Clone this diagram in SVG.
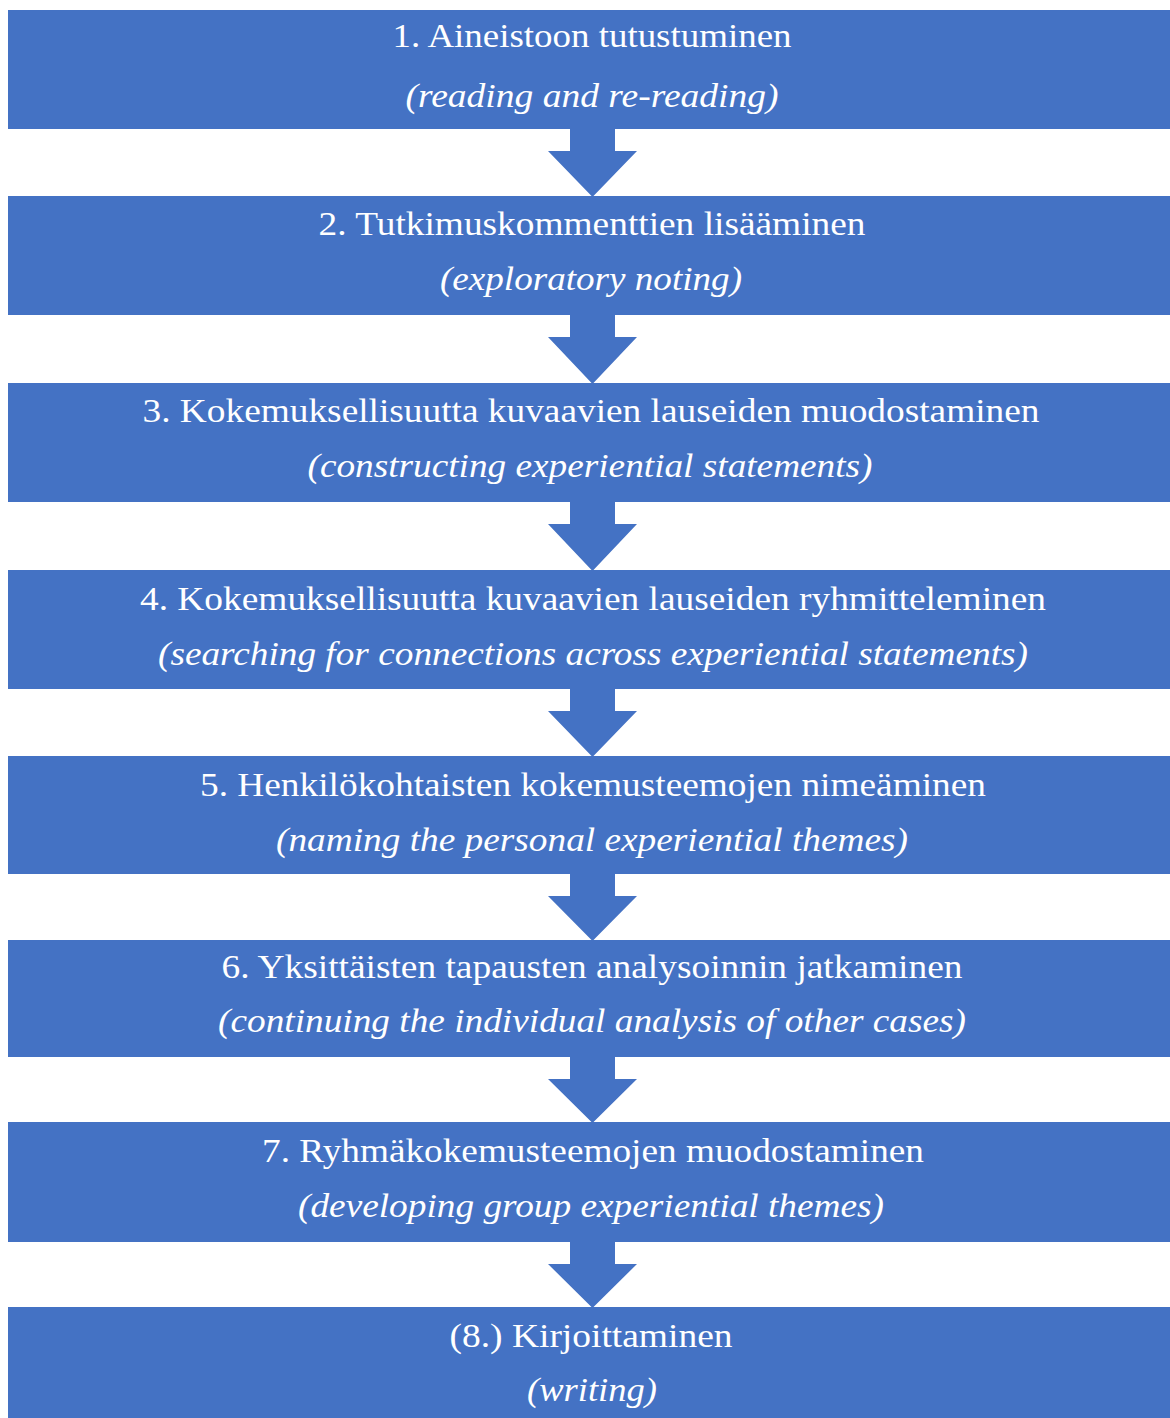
<svg xmlns="http://www.w3.org/2000/svg" width="1170" height="1418" viewBox="0 0 1170 1418">
<style>
.box{fill:#4472c4}
.arr{fill:#4472c4}
.t{font-family:"Liberation Serif","Times New Roman",serif;font-size:33px;fill:#ffffff;text-anchor:middle}
.s{font-family:"Liberation Serif","Times New Roman",serif;font-style:italic;font-size:33px;fill:#ffffff;text-anchor:middle}
</style>
<rect width="1170" height="1418" fill="#ffffff"/>
<g id="connectors">
<polygon class="arr" points="570,129 615,129 615,151 637,151 592.5,197 548,151 570,151"/>
<polygon class="arr" points="570,315 615,315 615,337 637,337 592.5,384 548,337 570,337"/>
<polygon class="arr" points="570,502 615,502 615,524 637,524 592.5,571 548,524 570,524"/>
<polygon class="arr" points="570,689 615,689 615,711 637,711 592.5,757 548,711 570,711"/>
<polygon class="arr" points="570,874 615,874 615,896 637,896 592.5,941 548,896 570,896"/>
<polygon class="arr" points="570,1057 615,1057 615,1079 637,1079 592.5,1123 548,1079 570,1079"/>
<polygon class="arr" points="570,1242 615,1242 615,1264 637,1264 592.5,1308 548,1264 570,1264"/>
</g>
<g id="n1"><rect class="box" x="8" y="10" width="1162" height="119"/>
<text class="t" x="592" y="47" textLength="399" lengthAdjust="spacingAndGlyphs">1. Aineistoon tutustuminen</text>
<text class="s" x="592" y="107" textLength="373" lengthAdjust="spacingAndGlyphs">(reading and re-reading)</text></g>
<g id="n2"><rect class="box" x="8" y="196" width="1162" height="119"/>
<text class="t" x="592" y="235" textLength="547" lengthAdjust="spacingAndGlyphs">2. Tutkimuskommenttien lisääminen</text>
<text class="s" x="591" y="290" textLength="302" lengthAdjust="spacingAndGlyphs">(exploratory noting)</text></g>
<g id="n3"><rect class="box" x="8" y="383" width="1162" height="119"/>
<text class="t" x="591" y="422" textLength="897" lengthAdjust="spacingAndGlyphs">3. Kokemuksellisuutta kuvaavien lauseiden muodostaminen</text>
<text class="s" x="590" y="477" textLength="565" lengthAdjust="spacingAndGlyphs">(constructing experiential statements)</text></g>
<g id="n4"><rect class="box" x="8" y="570" width="1162" height="119"/>
<text class="t" x="593" y="610" textLength="906" lengthAdjust="spacingAndGlyphs">4. Kokemuksellisuutta kuvaavien lauseiden ryhmitteleminen</text>
<text class="s" x="593" y="665" textLength="870" lengthAdjust="spacingAndGlyphs">(searching for connections across experiential statements)</text></g>
<g id="n5"><rect class="box" x="8" y="756" width="1162" height="118"/>
<text class="t" x="593" y="796" textLength="786" lengthAdjust="spacingAndGlyphs">5. Henkilökohtaisten kokemusteemojen nimeäminen</text>
<text class="s" x="592" y="851" textLength="632" lengthAdjust="spacingAndGlyphs">(naming the personal experiential themes)</text></g>
<g id="n6"><rect class="box" x="8" y="940" width="1162" height="117"/>
<text class="t" x="592" y="978" textLength="741" lengthAdjust="spacingAndGlyphs">6. Yksittäisten tapausten analysoinnin jatkaminen</text>
<text class="s" x="592" y="1032" textLength="748" lengthAdjust="spacingAndGlyphs">(continuing the individual analysis of other cases)</text></g>
<g id="n7"><rect class="box" x="8" y="1122" width="1162" height="120"/>
<text class="t" x="593" y="1162" textLength="662" lengthAdjust="spacingAndGlyphs">7. Ryhmäkokemusteemojen muodostaminen</text>
<text class="s" x="591" y="1217" textLength="586" lengthAdjust="spacingAndGlyphs">(developing group experiential themes)</text></g>
<g id="n8"><rect class="box" x="8" y="1307" width="1162" height="111"/>
<text class="t" x="591" y="1347" textLength="283" lengthAdjust="spacingAndGlyphs">(8.) Kirjoittaminen</text>
<text class="s" x="592" y="1401" textLength="130" lengthAdjust="spacingAndGlyphs">(writing)</text></g>
</svg>
